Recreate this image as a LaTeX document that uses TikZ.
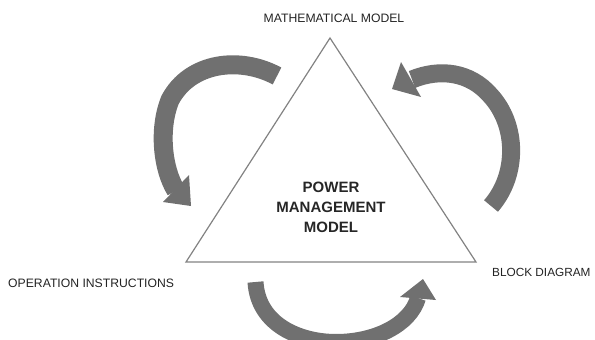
\documentclass[tikz,border=0pt]{standalone}
\usepackage{fontspec}
\setmainfont{Liberation Sans}
\definecolor{arrowgray}{RGB}{112,112,112}
\definecolor{linegray}{RGB}{130,130,130}
\definecolor{textgray}{RGB}{35,35,35}
\begin{document}
\begin{tikzpicture}[x=1pt,y=-1pt,
  label/.style={inner sep=0pt,text=textgray,font=\fontsize{12.2}{14}\selectfont},
  center/.style={inner sep=0pt,text=black!85,align=center,font=\fontsize{15}{20}\selectfont\bfseries},
  shaft/.style={draw=arrowgray,line cap=butt},
  arrowhead/.style={fill=arrowgray,draw=none}]
\useasboundingbox (0,0) rectangle (595,340);
\clip (0,0) rectangle (595,340);
% triangle
\coordinate (apex) at (330,38);
\coordinate (bl) at (186,262);
\coordinate (br) at (476,262);
\draw[linegray,line width=1.2pt,line join=miter] (apex) -- (bl) -- (br) -- cycle;
% labels
\node[label] (math) at (334,18) {MATHEMATICAL MODEL};
\node[label,anchor=west] (oper) at (8,283) {OPERATION INSTRUCTIONS};
\node[label,anchor=west,font=\fontsize{11.8}{14}\selectfont] (block) at (492,272) {BLOCK DIAGRAM};
\node[center] (pmm) at (331,207) {POWER\\MANAGEMENT\\MODEL};
% left arrow
\draw[shaft,line width=19pt] (277,76) .. controls (240,56) and (190,62) .. (170,100)
  .. controls (158,130) and (163,170) .. (176,190.5);
\fill[arrowhead] (189,175) -- (163,202) -- (191,206) -- cycle;
% right arrow
\draw[shaft,line width=18pt] (491,206) .. controls (518,175) and (518,125) .. (490,95)
  .. controls (470,72) and (440,68) .. (412,79.5);
\fill[arrowhead] (401,62) -- (421,97) -- (392,89) -- cycle;
% bottom arrow
\draw[shaft,line width=16pt] (255.5,282) .. controls (258,325) and (300,342) .. (336,342)
  .. controls (375,342) and (410,325) .. (418,298);
\fill[arrowhead] (400,297) -- (436,300) -- (423,279) -- cycle;
\end{tikzpicture}
\end{document}
